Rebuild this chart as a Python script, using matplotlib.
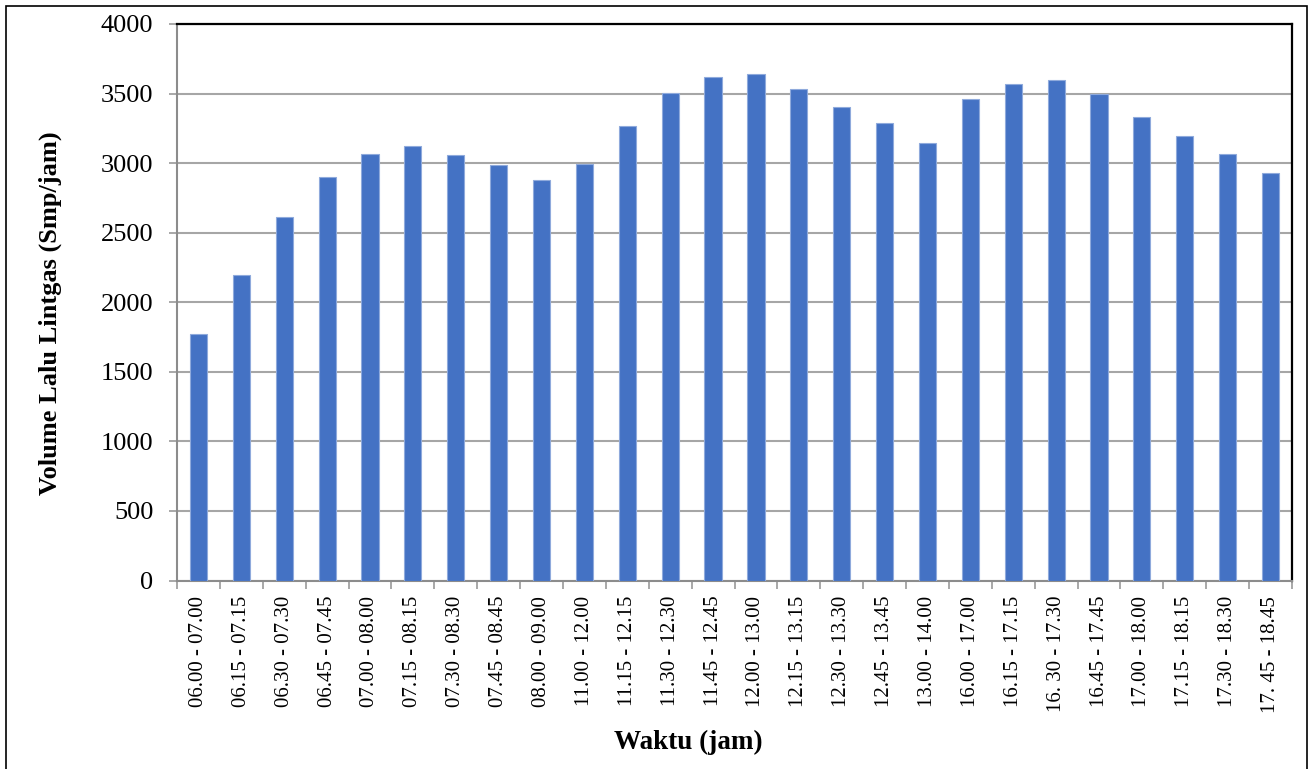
import matplotlib
matplotlib.use("Agg")
import matplotlib.pyplot as plt
from matplotlib.patches import Rectangle
import numpy as np

periods = [
    "06.00 - 07.00", "06.15 - 07.15", "06.30 - 07.30", "06.45 - 07.45",
    "07.00 - 08.00", "07.15 - 08.15", "07.30 - 08.30", "07.45 - 08.45",
    "08.00 - 09.00", "11.00 - 12.00", "11.15 - 12.15", "11.30 - 12.30",
    "11.45 - 12.45", "12.00 - 13.00", "12.15 - 13.15", "12.30 - 13.30",
    "12.45 - 13.45", "13.00 - 14.00", "16.00 - 17.00", "16.15 - 17.15",
    "16. 30 - 17.30", "16.45 - 17.45", "17.00 - 18.00", "17.15 - 18.15",
    "17.30 - 18.30", "17. 45 - 18.45",
]
volume = [
    1773, 2198, 2615, 2903, 3068, 3126, 3061, 2989, 2881, 2997,
    3265, 3502, 3617, 3644, 3534, 3401, 3286, 3145, 3462, 3570,
    3594, 3498, 3332, 3196, 3063, 2929,
]
y_ticks = [0, 500, 1000, 1500, 2000, 2500, 3000, 3500, 4000]

plt.rcParams["font.family"] = ["Liberation Serif", "DejaVu Serif"]

fig = plt.figure(figsize=(13.11, 7.69), dpi=100)
ax = fig.add_axes([177 / 1311, 1 - 580.5 / 769, (1292 - 177) / 1311, (580.5 - 24) / 769])

x = np.arange(len(periods))
ax.bar(x, volume, width=0.4, color="#4472C4", edgecolor="#8FAADC",
       linewidth=0.8, zorder=3)

ax.set_xlim(-0.5, len(periods) - 0.5)
ax.set_ylim(0, 4000)
ax.set_yticks(y_ticks)
ax.set_yticklabels([str(v) for v in y_ticks], fontsize=19)
ax.yaxis.grid(True, color="#A6A6A6", linewidth=1.5, zorder=0)
ax.set_axisbelow(True)

# category labels at centres, tick marks on category boundaries
ax.set_xticks(x)
ax.set_xticklabels(periods, rotation=90, fontsize=15, va="top", ha="center")
ax.tick_params(axis="x", which="major", length=0, pad=11)
ax.set_xticks(np.arange(-0.5, len(periods), 1.0), minor=True)
ax.tick_params(axis="x", which="minor", length=6, width=1.2, color="#999999",
               direction="out")
ax.tick_params(axis="y", length=6, width=1.2, color="#999999", pad=11)

for side in ("left", "bottom"):
    ax.spines[side].set_color("#8C8C8C")
    ax.spines[side].set_linewidth(1.5)
for side in ("top", "right"):
    ax.spines[side].set_color("black")
    ax.spines[side].set_linewidth(1.6)

fig.text(50 / 1311, 1 - 313 / 769, "Volume Lalu Lintgas (Smp/jam)",
         rotation=90, fontsize=19, fontweight="bold", ha="center", va="center")
fig.text(688 / 1311, 1 - 742 / 769, "Waktu (jam)", fontsize=19.5,
         fontweight="bold", ha="center", va="center")

# outer frame around the figure
fig.patches.append(Rectangle((6 / 1311, -0.01), (1307 - 6) / 1311, 1 - 6 / 769 + 0.01,
                             transform=fig.transFigure, fill=False,
                             edgecolor="black", linewidth=1.2))

fig.savefig("out.png", dpi=100)
